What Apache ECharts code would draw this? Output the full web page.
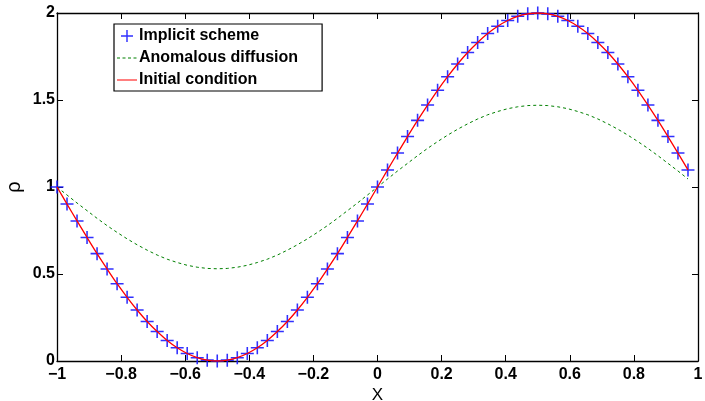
<!DOCTYPE html>
<html><head><meta charset="utf-8">
<script src="https://cdn.jsdelivr.net/npm/echarts@6/dist/echarts.min.js"></script>
<style>html,body{margin:0;padding:0;background:#fff}#c{width:705px;height:401px}</style>
</head><body><div id="c"></div>
<script>
const xs = [-1,-0.96875,-0.9375,-0.90625,-0.875,-0.84375,-0.8125,-0.78125,-0.75,-0.71875,-0.6875,-0.65625,-0.625,-0.59375,-0.5625,-0.53125,-0.5,-0.46875,-0.4375,-0.40625,-0.375,-0.34375,-0.3125,-0.28125,-0.25,-0.21875,-0.1875,-0.15625,-0.125,-0.09375,-0.0625,-0.03125,0,0.03125,0.0625,0.09375,0.125,0.15625,0.1875,0.21875,0.25,0.28125,0.3125,0.34375,0.375,0.40625,0.4375,0.46875,0.5,0.53125,0.5625,0.59375,0.625,0.65625,0.6875,0.71875,0.75,0.78125,0.8125,0.84375,0.875,0.90625,0.9375,0.96875];
const implicitScheme = [1,0.902,0.805,0.710,0.617,0.529,0.444,0.366,0.293,0.227,0.169,0.118,0.076,0.043,0.019,0.005,0,0.005,0.019,0.043,0.076,0.118,0.169,0.227,0.293,0.366,0.444,0.529,0.617,0.710,0.805,0.902,1,1.098,1.195,1.290,1.383,1.471,1.556,1.634,1.707,1.773,1.831,1.882,1.924,1.957,1.981,1.995,2.000,1.995,1.981,1.957,1.924,1.882,1.831,1.773,1.707,1.634,1.556,1.471,1.383,1.290,1.195,1.098];
const anomalousDiffusion = [1,0.954,0.908,0.864,0.820,0.778,0.739,0.702,0.668,0.637,0.609,0.585,0.566,0.550,0.539,0.532,0.530,0.532,0.539,0.550,0.566,0.585,0.609,0.637,0.668,0.702,0.739,0.778,0.820,0.864,0.908,0.954,1,1.046,1.092,1.136,1.180,1.222,1.261,1.298,1.332,1.363,1.391,1.415,1.434,1.450,1.461,1.468,1.470,1.468,1.461,1.450,1.434,1.415,1.391,1.363,1.332,1.298,1.261,1.222,1.180,1.136,1.092,1.046];
const initialCondition = [1,0.902,0.805,0.710,0.617,0.529,0.444,0.366,0.293,0.227,0.169,0.118,0.076,0.043,0.019,0.005,0,0.005,0.019,0.043,0.076,0.118,0.169,0.227,0.293,0.366,0.444,0.529,0.617,0.710,0.805,0.902,1,1.098,1.195,1.290,1.383,1.471,1.556,1.634,1.707,1.773,1.831,1.882,1.924,1.957,1.981,1.995,2.000,1.995,1.981,1.957,1.924,1.882,1.831,1.773,1.707,1.634,1.556,1.471,1.383,1.290,1.195,1.098];
const xTicks = [-1,-0.8,-0.6,-0.4,-0.2,0,0.2,0.4,0.6,0.8,1];
const yTicks = [0,0.5,1,1.5,2];
const seriesNames = ['Implicit scheme','Anomalous diffusion','Initial condition'];

const pair = (ys) => xs.map((x,i)=>[x, ys[i]]);
const fmt = v => { const s = String(Math.round(v*10)/10); return s.replace('-', '\u2212'); };
const FONT = '"Liberation Sans", Arial, sans-serif';
const tickLbl = {fontFamily: FONT, fontWeight: 'bold', fontSize: 16, color: '#000'};
const plusPath = 'path://M4.4,0h1.2v4.4h4.4v1.2h-4.4v4.4h-1.2v-4.4h-4.4v-1.2h4.4z';
// corner anchors keep the icon bounds at 20x12 so the stroke is not stretched
const anchors = 'M0,0L0.01,0L0,0.01Z M20,12L19.99,12L20,11.99Z ';
const solidIcon = 'path://' + anchors + 'M0,5.4h20v1.2h-20z';
const dashIcon = 'path://' + anchors + 'M0,5.5h3v1h-3z M5.5,5.5h3v1h-3z M11,5.5h3v1h-3z M16.5,5.5h3v1h-3z';

const chart = echarts.init(document.getElementById('c'), null, {renderer: 'canvas'});
chart.setOption({
  animation: false,
  backgroundColor: '#fff',
  grid: {left: 57, right: 7, top: 13, bottom: 40, containLabel: false, outerBoundsMode: 'none'},
  legend: {
    orient: 'vertical', left: 114, top: 24,
    data: [
      {name: seriesNames[0]},
      {name: seriesNames[1], icon: dashIcon},
      {name: seriesNames[2], icon: solidIcon}
    ],
    itemWidth: 20, itemHeight: 12, itemGap: 6,
    padding: [4, 24, 3, 3],
    borderColor: '#000', borderWidth: 1.2, backgroundColor: '#fff',
    textStyle: {fontFamily: FONT, fontWeight: 'bold', fontSize: 16, color: '#000', padding: [0,0,0,-3]}
  },
  xAxis: [{
    type: 'value', min: -1, max: 1, interval: 0.2,
    name: 'X', nameLocation: 'middle', nameGap: 26, nameMoveOverlap: false,
    nameTextStyle: {fontFamily: FONT, fontSize: 17, color: '#000'},
    axisLine: {show: true, onZero: false, lineStyle: {color: '#000', width: 1.3}},
    axisTick: {inside: true, length: 6, lineStyle: {color: '#000'}},
    axisLabel: Object.assign({margin: 6, formatter: fmt, showMinLabel: true, showMaxLabel: true}, tickLbl),
    splitLine: {show: false}
  },{
    type: 'value', min: -1, max: 1, interval: 0.2, position: 'top',
    axisLine: {show: true, onZero: false, lineStyle: {color: '#000', width: 1.3}},
    axisTick: {inside: true, length: 6, lineStyle: {color: '#000'}},
    axisLabel: {show: false}, splitLine: {show: false}
  }],
  yAxis: [{
    type: 'value', min: 0, max: 2, interval: 0.5,
    name: 'ρ', nameLocation: 'middle', nameGap: 33, nameRotate: 90, nameMoveOverlap: false,
    nameTextStyle: {fontFamily: FONT, fontSize: 20, color: '#000'},
    axisLine: {show: true, onZero: false, lineStyle: {color: '#000', width: 1.3}},
    axisTick: {inside: true, length: 6, lineStyle: {color: '#000'}},
    axisLabel: Object.assign({margin: 2, formatter: v => String(v)}, tickLbl),
    splitLine: {show: false}
  },{
    type: 'value', min: 0, max: 2, interval: 0.5, position: 'right',
    axisLine: {show: true, onZero: false, lineStyle: {color: '#000', width: 1.3}},
    axisTick: {inside: true, length: 6, lineStyle: {color: '#000'}},
    axisLabel: {show: false}, splitLine: {show: false}
  }],
  series: [{
    name: seriesNames[0], type: 'scatter', data: pair(implicitScheme),
    symbol: plusPath, symbolSize: 13,
    itemStyle: {color: '#1a1aff', opacity: 0.9}, z: 2
  },{
    name: seriesNames[1], type: 'line', data: pair(anomalousDiffusion),
    symbol: 'none', showSymbol: false,
    lineStyle: {color: '#008000', width: 1, type: [3, 3]},
    itemStyle: {color: '#008000'}, z: 3
  },{
    name: seriesNames[2], type: 'line', data: pair(initialCondition),
    symbol: 'none', showSymbol: false, smooth: 0.3,
    lineStyle: {color: '#ff0000', width: 1.3},
    itemStyle: {color: '#ff0000'}, z: 4
  }]
});
</script></body></html>
